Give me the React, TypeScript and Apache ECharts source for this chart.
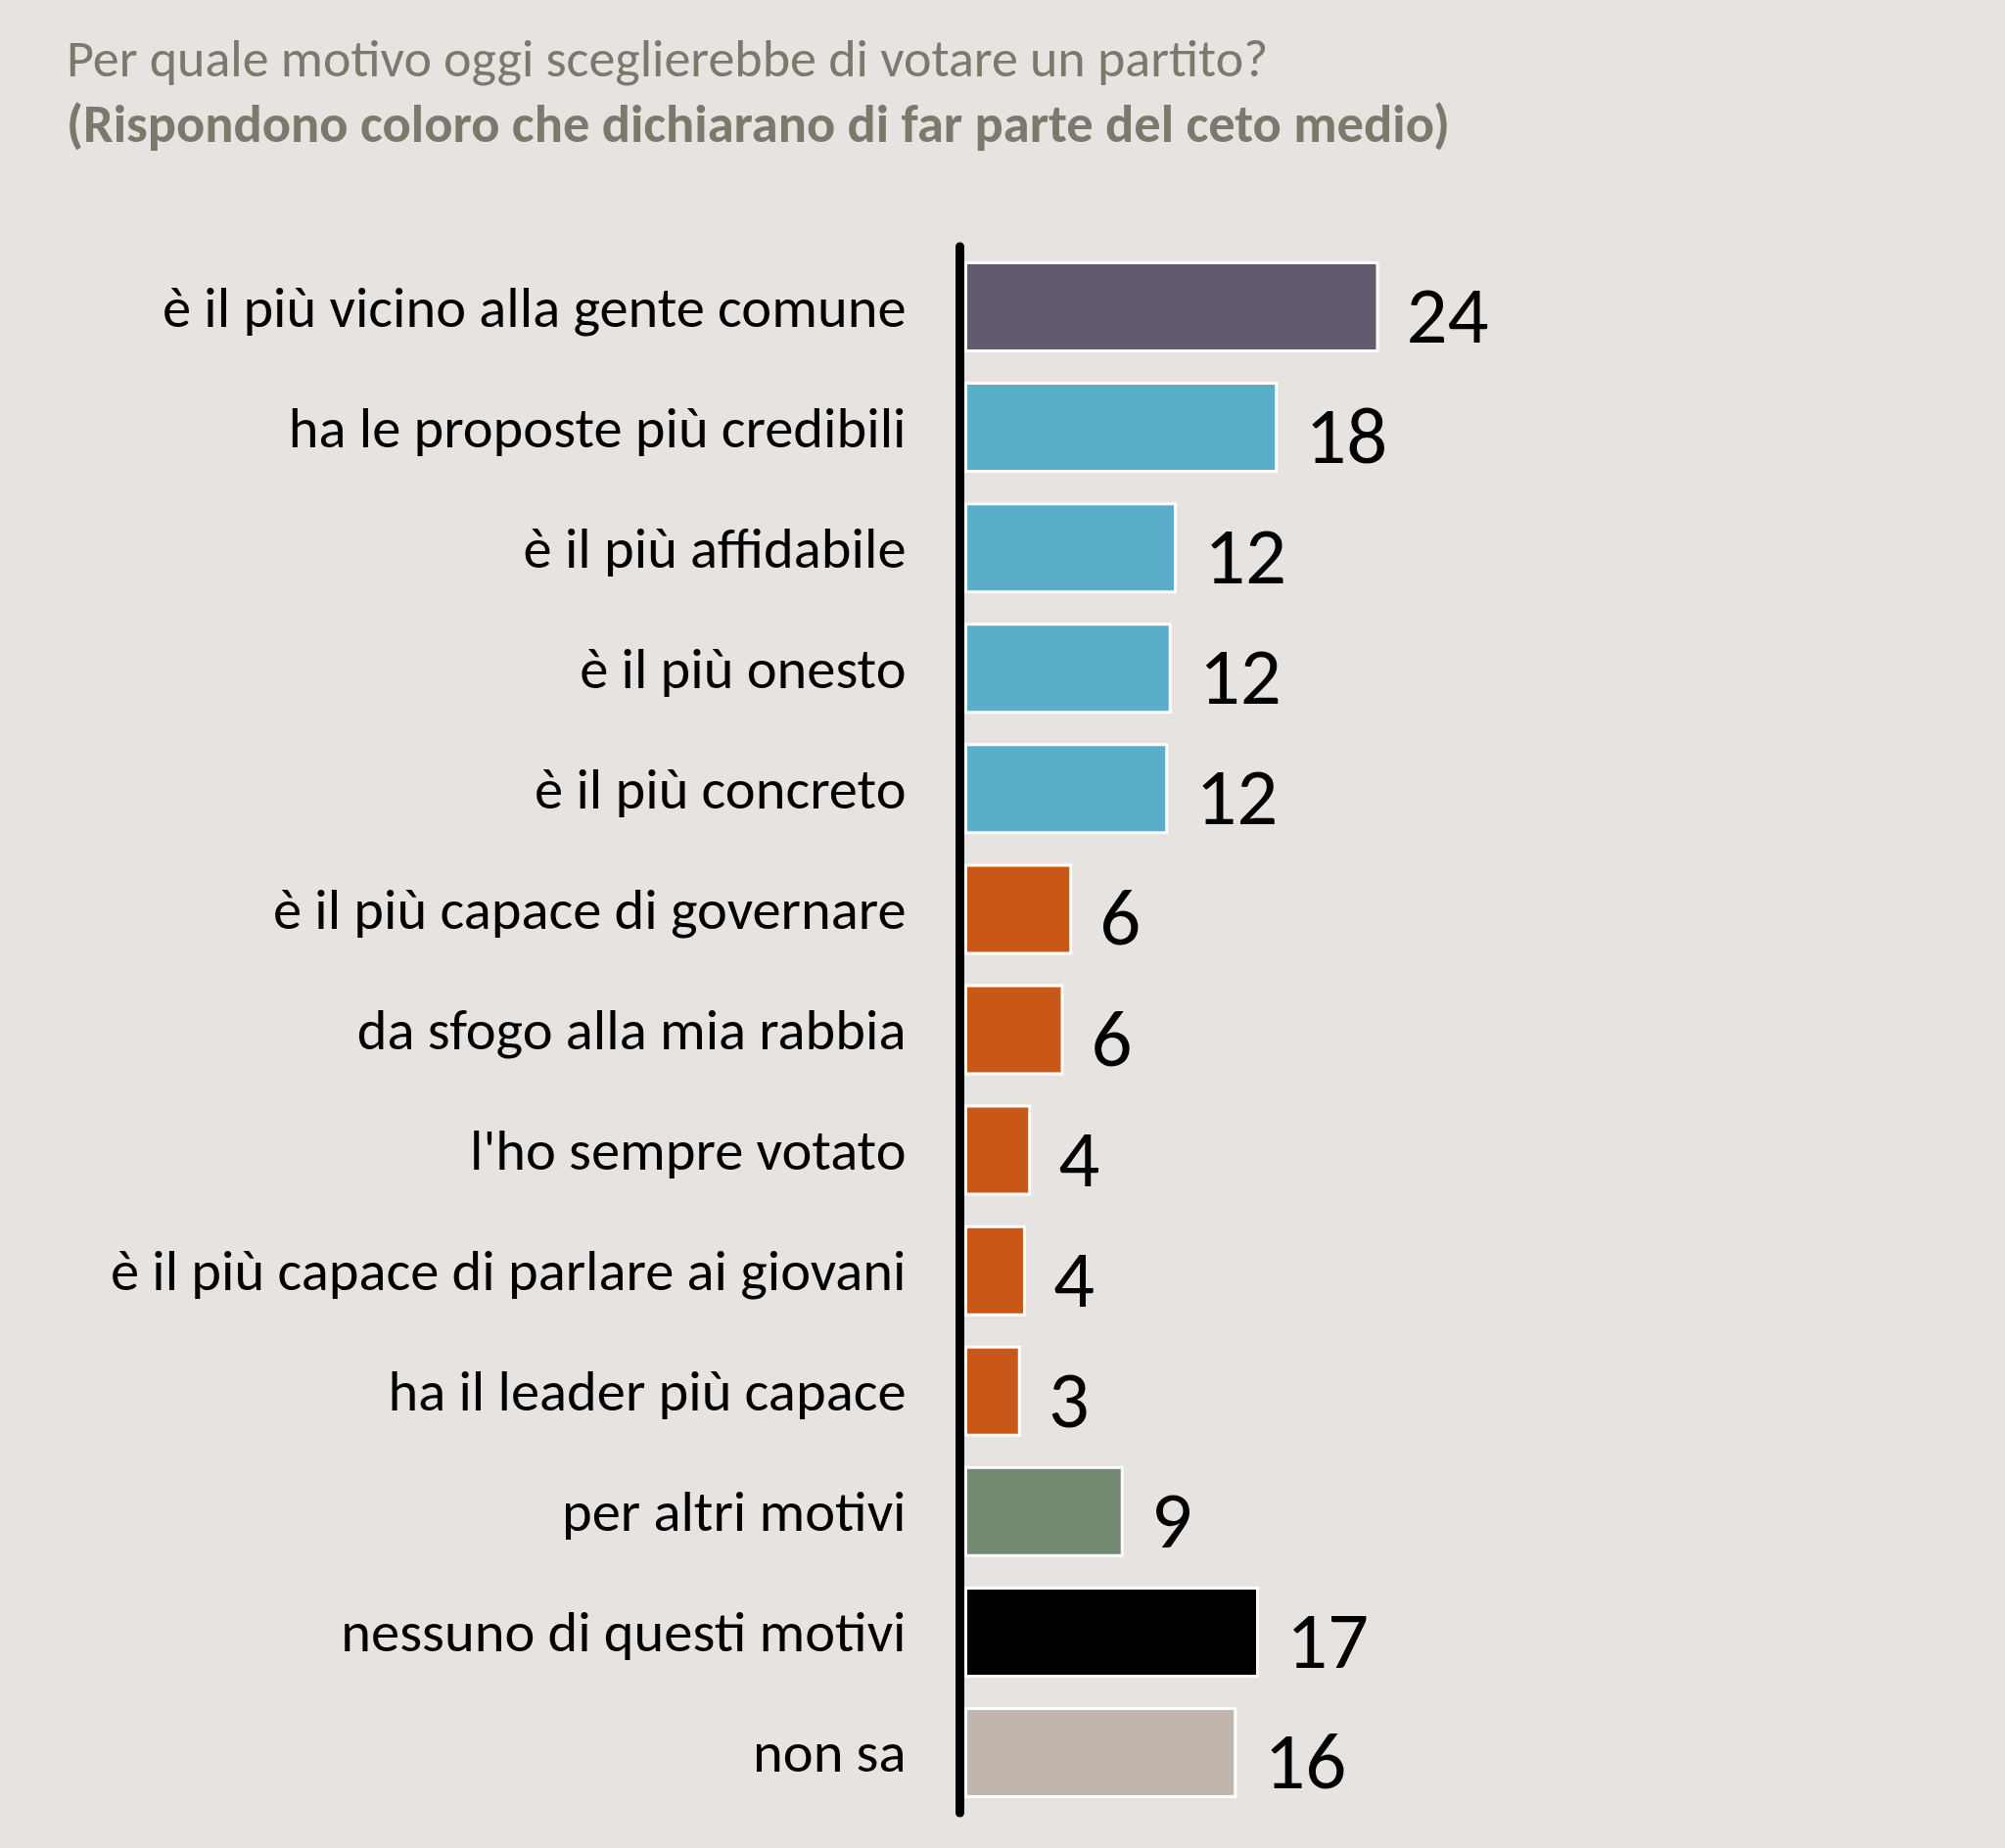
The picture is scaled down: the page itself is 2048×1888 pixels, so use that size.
import React, { useEffect, useRef } from "react";
import * as echarts from "echarts";

const categories = [
  "è il più vicino alla gente comune",
  "ha le proposte più credibili",
  "è il più affidabile",
  "è il più onesto",
  "è il più concreto",
  "è il più capace di governare",
  "da sfogo alla mia rabbia",
  "l'ho sempre votato",
  "è il più capace di parlare ai giovani",
  "ha il leader più capace",
  "per altri motivi",
  "nessuno di questi motivi",
  "non sa",
];
const values = [24.2, 18.3, 12.4, 12.1, 11.9, 6.3, 5.8, 3.9, 3.6, 3.3, 9.3, 17.2, 15.9];
const barColors = [
  "#635a6e",
  "#5aaeca",
  "#5aaeca",
  "#5aaeca",
  "#5aaeca",
  "#c95718",
  "#c95718",
  "#c95718",
  "#c95718",
  "#c95718",
  "#728a72",
  "#000000",
  "#c0b6ad",
];
const titleLine1 = "Per quale motivo oggi sceglierebbe di votare un partito?";
const titleLine2 = "(Rispondono coloro che dichiarano di far parte del ceto medio)";

const FONT = "Carlito, Lato, 'Open Sans', sans-serif";
const BG = "#e6e3e0";

export default function App() {
  const ref = useRef<HTMLDivElement>(null);
  useEffect(() => {
    document.body.style.margin = "0";
    document.body.style.background = BG;
    const chart = echarts.init(ref.current!, null, { renderer: "svg" });
    chart.setOption({
      animation: false,
      backgroundColor: BG,
      graphic: [
        {
          type: "text",
          left: 68,
          top: 33,
          style: { text: titleLine1, fill: "#7a7a6c", font: `normal 54px ${FONT}` },
        },
        {
          type: "text",
          left: 68,
          top: 99,
          style: { text: titleLine2, fill: "#7a7a6c", font: `bold 54.5px ${FONT}` },
        },
      ],
      grid: { left: 985, top: 252, width: 525, height: 1600, containLabel: false },
      xAxis: { type: "value", min: 0, max: 30, show: false },
      yAxis: {
        type: "category",
        data: categories,
        inverse: true,
        offset: 4.5,
        z: 10,
        axisLine: { show: true, onZero: false, lineStyle: { color: "#000", width: 9 } },
        axisTick: { show: false },
        axisLabel: {
          margin: 55,
          fontSize: 58.5,
          color: "#000",
          fontFamily: FONT,
          padding: [8, 0, 0, 0],
        },
      },
      series: [
        {
          type: "bar",
          barWidth: 93,
          data: values.map((v, i) => ({ value: v, itemStyle: { color: barColors[i] } })),
          itemStyle: { borderColor: "#ffffff", borderWidth: 3 },
          label: {
            show: true,
            position: "right",
            distance: 28,
            offset: [0, 8],
            fontSize: 83,
            color: "#000",
            fontFamily: FONT,
            formatter: (p: any) => String(Math.round(p.value)),
          },
        },
      ],
    });
    return () => chart.dispose();
  }, []);
  return <div ref={ref} style={{ width: 2048, height: 1888 }} />;
}
